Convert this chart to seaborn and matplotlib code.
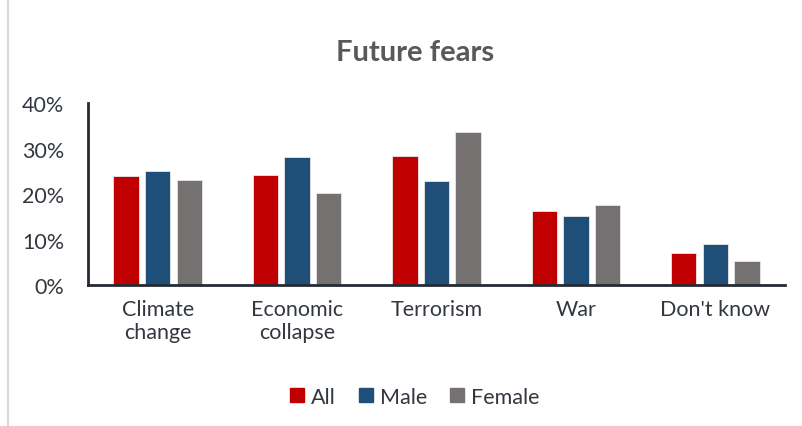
import numpy as np
import pandas as pd
import matplotlib.pyplot as plt
import seaborn as sns
from matplotlib.ticker import PercentFormatter
from matplotlib.lines import Line2D

categories = ["Climate\nchange", "Economic\ncollapse", "Terrorism", "War", "Don't know"]
all_vals = [24.0, 24.2, 28.3, 16.4, 7.1]
male_vals = [25.0, 28.1, 22.9, 15.1, 9.0]
female_vals = [23.2, 20.3, 33.6, 17.7, 5.3]
groups = ["All", "Male", "Female"]
colors = ["#C00000", "#1F4E79", "#767171"]

df = pd.DataFrame({
    "category": categories * 3,
    "group": ["All"] * 5 + ["Male"] * 5 + ["Female"] * 5,
    "value": all_vals + male_vals + female_vals,
})

sns.set_style("white")
plt.rcParams['font.family'] = ['Lato', 'DejaVu Sans']
text_col = "#333840"

fig = plt.figure(figsize=(8.02, 4.27), dpi=100)
ax = fig.add_axes([0.1097, 0.330, 0.8691, 0.426])

sns.barplot(data=df, x="category", y="value", hue="group", order=categories,
            hue_order=groups, palette=colors, saturation=1, width=0.68, gap=0.2,
            edgecolor="#e8e8e8", linewidth=0.6, legend=False, ax=ax)

ax.set_xlim(-0.5, 4.5)
ax.set_ylim(0, 40)
ax.set_yticks([0, 10, 20, 30, 40])
ax.yaxis.set_major_formatter(PercentFormatter(decimals=0))
ax.set_xlabel("")
ax.set_ylabel("")
ax.tick_params(axis="both", length=0, labelsize=15.5, colors=text_col)
ax.tick_params(axis="x", pad=10)
ax.tick_params(axis="y", pad=17)
for s in ["top", "right"]:
    ax.spines[s].set_visible(False)
for s in ["left", "bottom"]:
    ax.spines[s].set_color("#252a33")
    ax.spines[s].set_linewidth(2)

fig.text(415 / 802, 1 - 53 / 427, "Future fears", ha="center", va="center",
         fontsize=21, fontweight="bold", color="#595959")

handles = [Line2D([0], [0], marker="s", linestyle="", markersize=10,
                  markerfacecolor=c, markeredgecolor=c) for c in colors]
fig.legend(handles, groups, loc="center", bbox_to_anchor=(415 / 802, 1 - 398 / 427),
           ncol=3, frameon=False, fontsize=15.5, handlelength=0.6, handletextpad=0.35,
           columnspacing=1.1, labelcolor=text_col)

fig.add_artist(Line2D([8 / 802, 8 / 802], [0, 1], color="#d9d9d9", linewidth=1.5))

fig.savefig("out.png", dpi=100)
